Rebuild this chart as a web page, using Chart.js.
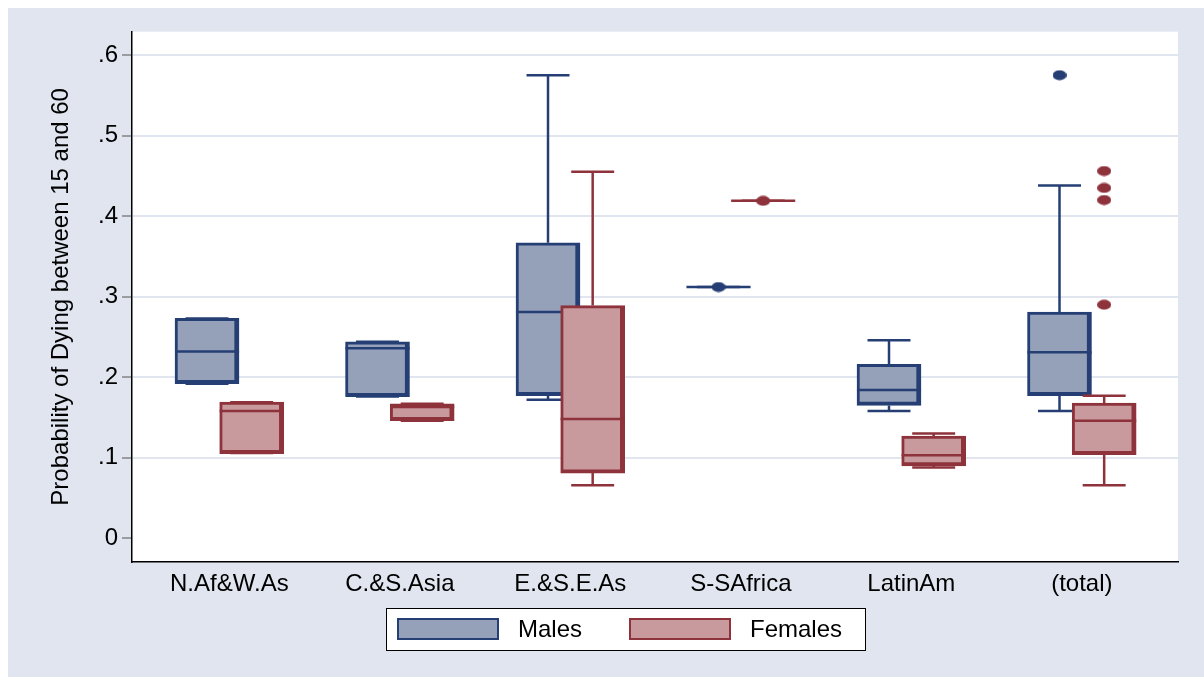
<!DOCTYPE html>
<html><head><meta charset="utf-8">
<script src="https://cdn.jsdelivr.net/npm/chart.js@4.4.0/dist/chart.umd.min.js"></script>
<style>html,body{margin:0;padding:0;background:#fff;}</style>
</head><body>
<canvas id="c" width="1204" height="677"></canvas>
<script>
// ---- data ----
const categories = ['N.Af&W.As', 'C.&S.Asia', 'E.&S.E.As', 'S-SAfrica', 'LatinAm', '(total)'];
const seriesNames = ['Males', 'Females'];
const yTitle = 'Probability of Dying between 15 and 60';
const yTickValues = [0, 0.1, 0.2, 0.3, 0.4, 0.5, 0.6];
const yTickLabels = ['0', '.1', '.2', '.3', '.4', '.5', '.6'];

const maleLow  = [0.192, 0.176, 0.172, 0.312, 0.158, 0.158];
const maleQ1   = [0.192, 0.176, 0.177, 0.312, 0.165, 0.177];
const maleMed  = [0.232, 0.236, 0.281, 0.312, 0.184, 0.231];
const maleQ3   = [0.273, 0.244, 0.367, 0.312, 0.216, 0.281];
const maleHigh = [0.273, 0.244, 0.575, 0.312, 0.246, 0.438];
const maleOut  = [[], [], [], [0.312], [], [0.575]];

const femaleLow  = [0.106, 0.146, 0.066, 0.419, 0.088, 0.066];
const femaleQ1   = [0.105, 0.146, 0.081, 0.419, 0.090, 0.104];
const femaleMed  = [0.158, 0.163, 0.148, 0.419, 0.103, 0.146];
const femaleQ3   = [0.169, 0.167, 0.289, 0.419, 0.127, 0.168];
const femaleHigh = [0.169, 0.167, 0.455, 0.419, 0.130, 0.177];
const femaleOut  = [[], [], [], [0.419], [], [0.456, 0.435, 0.420, 0.290]];

// ---- styles ----
const FONT = "'Liberation Sans', Arial, sans-serif";
const BG_GRAY = '#e0e5ef';
const GRID = '#e0e5ef';
const M_LINE = '#253f74', M_FILL = '#94a1b9';
const F_LINE = '#8e333b', F_FILL = '#c89a9e';
const OFFSET = 0.131, BOX_HALF = 0.188, CAP_HALF = 0.126;

function boxData(q1, q3, off) {
  return categories.map((c, i) => ({x: i + off, y: [q1[i], q3[i]]}));
}
function whiskerData(lo, q1, q3, hi, off) {
  const p = [];
  categories.forEach((c, i) => {
    const x = i + off;
    p.push({x, y: lo[i]}, {x, y: q1[i]}, {x, y: null},
           {x, y: q3[i]}, {x, y: hi[i]}, {x, y: null},
           {x: x - CAP_HALF, y: lo[i]}, {x: x + CAP_HALF, y: lo[i]}, {x, y: null},
           {x: x - CAP_HALF, y: hi[i]}, {x: x + CAP_HALF, y: hi[i]}, {x, y: null});
  });
  return p;
}
function medianData(med, off) {
  const p = [];
  categories.forEach((c, i) => {
    const x = i + off;
    p.push({x: x - BOX_HALF, y: med[i]}, {x: x + BOX_HALF, y: med[i]}, {x, y: null});
  });
  return p;
}
function outData(out, off) {
  const p = [];
  out.forEach((arr, i) => arr.forEach(v => p.push({x: i + off, y: v})));
  return p;
}
function dot(color) {
  const cv = document.createElement('canvas');
  cv.width = 14; cv.height = 11;
  const g = cv.getContext('2d');
  g.fillStyle = color; g.beginPath(); g.ellipse(7, 5.5, 7, 5, 0, 0, Math.PI * 2); g.fill();
  return cv;
}

const bgPlugin = {
  id: 'bg',
  beforeDraw(chart) {
    const c = chart.ctx, a = chart.chartArea;
    c.save();
    c.fillStyle = '#fff'; c.fillRect(0, 0, chart.width, chart.height);
    c.fillStyle = BG_GRAY; c.fillRect(8, 8, chart.width - 8, chart.height - 8);
    c.fillStyle = '#fff'; c.fillRect(a.left, a.top, a.right - a.left, a.bottom - a.top);
    c.restore();
  }
};
const legendPlugin = {
  id: 'customLegend',
  afterDraw(chart) {
    const c = chart.ctx;
    c.save();
    c.fillStyle = '#fff'; c.fillRect(386, 608, 479, 42);
    c.strokeStyle = '#000'; c.lineWidth = 1; c.strokeRect(386.5, 608.5, 479, 42);
    const items = [chart.data.datasets[0], chart.data.datasets[4]];
    const sx = [397, 629], tx = [518, 750];
    items.forEach((ds, k) => {
      c.fillStyle = ds.backgroundColor; c.fillRect(sx[k], 618, 102, 22);
      c.strokeStyle = ds.borderColor; c.lineWidth = 2; c.strokeRect(sx[k] + 1, 619, 100, 20);
      c.fillStyle = '#000'; c.font = '24px ' + FONT; c.textBaseline = 'middle'; c.textAlign = 'left';
      c.fillText(ds.label, tx[k], 630);
    });
    c.restore();
  }
};

const datasets = [
  {type: 'bar', label: seriesNames[0], data: boxData(maleQ1, maleQ3, -OFFSET),
   backgroundColor: M_FILL, borderColor: M_LINE, borderWidth: {top: 3, bottom: 4, left: 3, right: 5},
   borderSkipped: false, barThickness: 64, grouped: false, order: 7},
  {type: 'scatter', label: 'm-whisk', data: whiskerData(maleLow, maleQ1, maleQ3, maleHigh, -OFFSET),
   showLine: true, spanGaps: false, borderColor: M_LINE, borderWidth: 2.5, pointRadius: 0, order: 6},
  {type: 'scatter', label: 'm-med', data: medianData(maleMed, -OFFSET),
   showLine: true, spanGaps: false, borderColor: M_LINE, borderWidth: 2.5, pointRadius: 0, order: 5},
  {type: 'scatter', label: 'm-out', data: outData(maleOut, -OFFSET),
   pointStyle: dot(M_LINE), pointRadius: 6, order: 4},
  {type: 'bar', label: seriesNames[1], data: boxData(femaleQ1, femaleQ3, OFFSET),
   backgroundColor: F_FILL, borderColor: F_LINE, borderWidth: {top: 3, bottom: 4, left: 3, right: 5},
   borderSkipped: false, barThickness: 64, grouped: false, order: 3},
  {type: 'scatter', label: 'f-whisk', data: whiskerData(femaleLow, femaleQ1, femaleQ3, femaleHigh, OFFSET),
   showLine: true, spanGaps: false, borderColor: F_LINE, borderWidth: 2.5, pointRadius: 0, order: 2},
  {type: 'scatter', label: 'f-med', data: medianData(femaleMed, OFFSET),
   showLine: true, spanGaps: false, borderColor: F_LINE, borderWidth: 2.5, pointRadius: 0, order: 1},
  {type: 'scatter', label: 'f-out', data: outData(femaleOut, OFFSET),
   pointStyle: dot(F_LINE), pointRadius: 6, order: 0}
];

new Chart(document.getElementById('c'), {
  data: {datasets},
  options: {
    responsive: false, animation: false, devicePixelRatio: 1,
    layout: {padding: {left: 0, top: 31.7, right: 26, bottom: 75}},
    plugins: {legend: {display: false}, tooltip: {enabled: false}},
    scales: {
      x: {
        type: 'linear', min: -0.571, max: 5.564, offset: false,
        grid: {display: false, drawTicks: false},
        border: {display: true, color: '#000', width: 1.5},
        ticks: {padding: 8, color: '#000', font: {family: FONT, size: 24}, maxRotation: 0, autoSkip: false,
                callback: (v) => categories[v]},
        afterBuildTicks: (s) => { s.ticks = categories.map((c, i) => ({value: i})); },
        afterFit: (s) => { s.height = 40; }
      },
      y: {
        type: 'linear', min: -0.0294, max: 0.629,
        afterBuildTicks: (s) => { s.ticks = yTickValues.map(v => ({value: v})); },
        ticks: {padding: 4, color: '#000', font: {family: FONT, size: 24},
                callback: (v, i) => yTickLabels[i]},
        grid: {color: (ctx) => (ctx.tick && ctx.tick.value === 0) ? 'rgba(0,0,0,0)' : GRID,
               lineWidth: 2, tickColor: '#555', tickLength: 10, tickWidth: 1},
        border: {color: '#000', width: 1.5},
        title: {display: true, text: yTitle, color: '#000', font: {family: FONT, size: 24},
                padding: {top: 47, bottom: 0}},
        afterFit: (s) => { s.width = 132; }
      }
    }
  },
  plugins: [bgPlugin, legendPlugin]
});
</script>
</body></html>
